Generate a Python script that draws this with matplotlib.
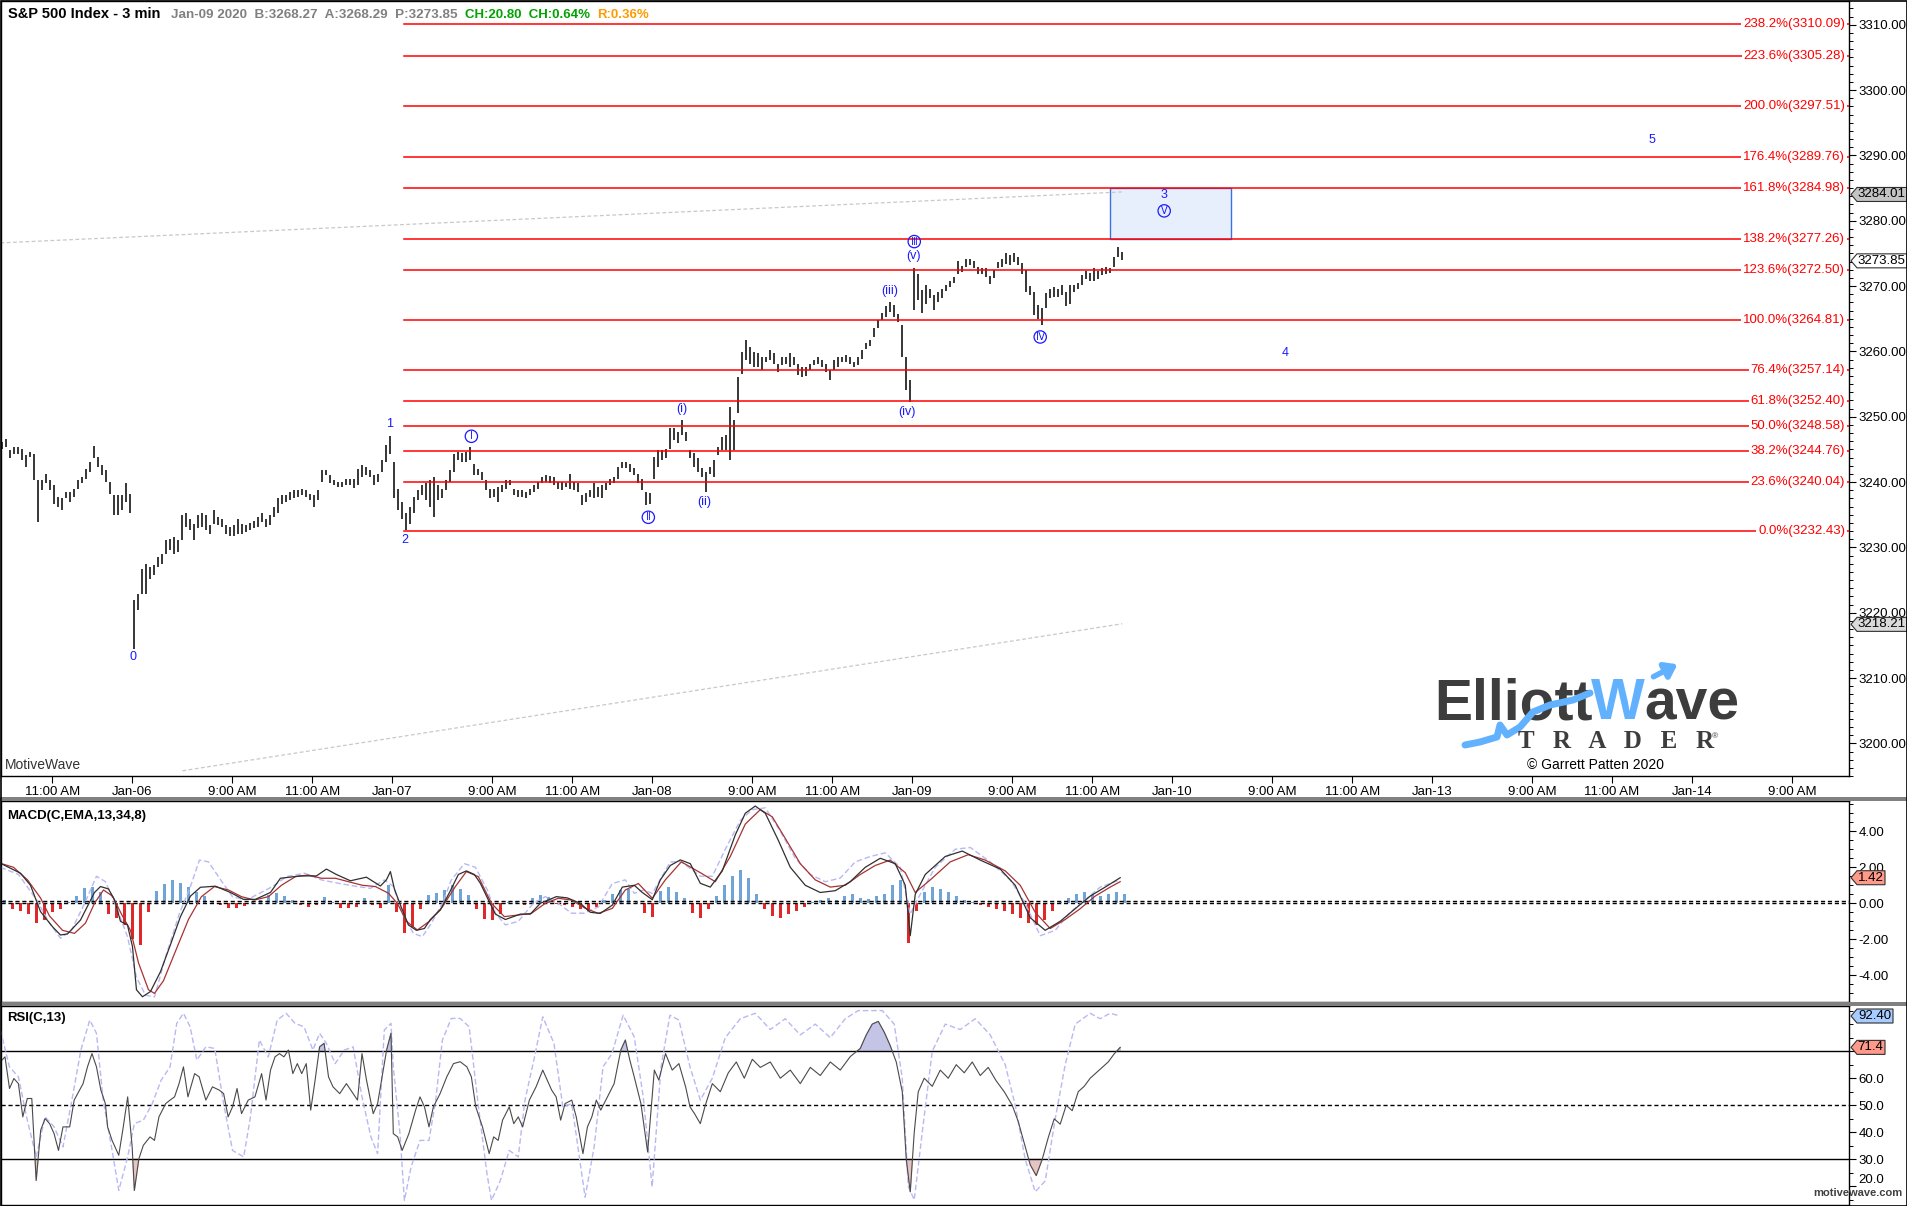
import numpy as np
import matplotlib
matplotlib.use("Agg")
import matplotlib.pyplot as plt
from matplotlib.patches import Rectangle, Polygon
from matplotlib.ticker import MultipleLocator, FormatStrFormatter, FixedLocator, FuncFormatter

plt.rcParams['font.family'] = ['Liberation Sans', 'DejaVu Sans']

W, H = 1908, 1206

# time axis unit: 1.5 trading minutes (one 3-min bar = 2 units), one session = 260 units
day_open = [132, 392, 652, 912, 1172, 1432, 1692]
day_name = ['Jan-06', 'Jan-07', 'Jan-08', 'Jan-09', 'Jan-10', 'Jan-13', 'Jan-14']

# price bars (high / low), 6-minute slots
fri_hi = [3246.1, 3246.6, 3244.9, 3245.4, 3245.4, 3245.1, 3244.1, 3244.6, 3244.3, 3240.3, 3240.3,
          3241.3, 3240.3, 3239.5, 3237.7, 3237.5, 3238.5, 3238.5, 3239.0, 3240.3, 3240.8, 3242.0,
          3243.1, 3245.5, 3243.8, 3242.6, 3241.8, 3240.0, 3238.0, 3238.0, 3238.0, 3239.8, 3238.2]
fri_lo = [3245.1, 3245.4, 3243.6, 3244.3, 3244.3, 3243.3, 3242.3, 3243.8, 3240.3, 3233.9, 3238.7,
          3239.8, 3238.7, 3236.7, 3236.2, 3235.7, 3237.5, 3236.9, 3237.7, 3239.0, 3239.8, 3240.5,
          3241.5, 3243.6, 3242.3, 3241.0, 3240.0, 3238.2, 3234.9, 3234.9, 3235.7, 3236.9, 3235.2]
d06_hi = [3221.9, 3222.9, 3226.7, 3227.5, 3227.0, 3227.3, 3228.5, 3229.0, 3231.1, 3231.3, 3231.6,
          3231.1, 3234.9, 3235.2, 3234.4, 3233.6, 3234.9, 3235.2, 3234.9, 3233.4, 3235.7, 3234.7,
          3234.4, 3233.4, 3233.1, 3233.4, 3234.4, 3233.6, 3233.4, 3233.7, 3234.1, 3234.7, 3235.2,
          3234.4, 3234.9, 3236.2, 3237.5, 3238.0, 3238.0, 3238.5, 3238.7, 3238.7, 3239.0, 3238.7,
          3238.2, 3238.0, 3238.7, 3241.8, 3241.9, 3241.0, 3240.3, 3240.0, 3240.0, 3240.4, 3240.5,
          3240.5, 3242.0, 3242.6, 3242.3, 3241.8, 3241.0, 3241.3, 3243.3, 3245.6, 3247.1]
d06_lo = [3214.5, 3220.4, 3222.9, 3222.9, 3225.2, 3225.7, 3227.0, 3227.5, 3229.0, 3229.6, 3229.0,
          3229.3, 3231.1, 3233.1, 3232.6, 3231.1, 3232.9, 3233.1, 3232.6, 3232.1, 3233.6, 3233.4,
          3233.1, 3232.1, 3231.8, 3231.8, 3232.1, 3232.1, 3232.4, 3232.7, 3232.9, 3233.1, 3233.9,
          3233.1, 3233.4, 3234.7, 3235.2, 3236.7, 3236.9, 3237.2, 3237.5, 3237.7, 3238.0, 3237.7,
          3237.2, 3236.2, 3237.2, 3240.0, 3241.0, 3239.8, 3239.5, 3239.2, 3239.3, 3239.5, 3239.6,
          3239.1, 3239.5, 3240.8, 3241.0, 3240.8, 3239.5, 3240.0, 3241.5, 3243.1, 3244.3]
d07_hi = [3243.1, 3239.0, 3236.9, 3235.2, 3236.2, 3237.7, 3238.7, 3239.5, 3239.8, 3240.3, 3240.8,
          3239.5, 3239.0, 3240.3, 3241.8, 3244.3, 3244.6, 3244.4, 3244.6, 3245.3, 3242.8, 3242.0,
          3241.5, 3240.3, 3239.0, 3239.0, 3239.2, 3239.5, 3240.3, 3240.3, 3239.0, 3238.7, 3238.7,
          3238.5, 3239.0, 3239.5, 3240.0, 3240.8, 3241.0, 3240.9, 3240.7, 3240.0, 3240.0, 3239.8,
          3241.3, 3240.0, 3239.8, 3238.0, 3238.3, 3238.8, 3239.8, 3239.3, 3239.5, 3239.8, 3240.5,
          3240.8, 3242.3, 3243.1, 3243.1, 3242.8, 3242.1, 3241.3, 3240.5, 3238.5, 3238.3]
d07_lo = [3237.5, 3235.7, 3234.4, 3232.6, 3233.6, 3235.2, 3237.2, 3238.0, 3237.2, 3236.2, 3234.7,
          3237.2, 3237.5, 3238.7, 3240.0, 3241.5, 3243.3, 3243.1, 3243.1, 3243.3, 3241.0, 3241.0,
          3240.3, 3238.7, 3237.5, 3237.7, 3236.9, 3238.5, 3239.0, 3239.5, 3238.0, 3237.7, 3237.7,
          3237.5, 3238.0, 3238.5, 3239.0, 3239.8, 3240.0, 3239.9, 3239.6, 3239.0, 3238.8, 3239.3,
          3239.0, 3238.8, 3238.5, 3236.5, 3237.0, 3237.7, 3237.5, 3237.7, 3237.5, 3238.8, 3239.5,
          3239.8, 3240.5, 3242.1, 3242.1, 3241.6, 3241.1, 3239.8, 3238.8, 3236.5, 3236.7]
d08_hi = [3243.9, 3244.9, 3244.9, 3245.1, 3248.2, 3248.2, 3247.7, 3249.5, 3247.7, 3244.9, 3244.4,
          3243.6, 3242.1, 3241.6, 3242.3, 3243.4, 3245.4, 3246.9, 3247.2, 3251.5, 3249.5, 3256.1,
          3259.9, 3261.7, 3260.7, 3259.9, 3259.7, 3259.2, 3259.2, 3260.2, 3259.7, 3258.1, 3259.2,
          3259.2, 3259.7, 3259.2, 3258.1, 3257.6, 3257.6, 3258.1, 3258.7, 3259.2, 3258.7, 3258.1,
          3257.1, 3258.7, 3259.2, 3259.2, 3259.5, 3259.2, 3258.4, 3259.2, 3260.2, 3261.2, 3261.7,
          3263.5, 3264.8, 3265.9, 3266.9, 3267.6, 3267.1, 3265.7, 3264.0, 3259.2, 3255.6]
d08_lo = [3240.5, 3242.3, 3243.4, 3243.6, 3245.1, 3246.4, 3245.9, 3247.2, 3246.2, 3243.6, 3242.3,
          3241.6, 3240.8, 3238.5, 3241.3, 3240.8, 3244.1, 3244.9, 3244.9, 3243.4, 3244.9, 3250.5,
          3256.6, 3258.7, 3258.1, 3257.6, 3257.6, 3257.1, 3258.4, 3258.7, 3258.1, 3256.9, 3257.9,
          3258.1, 3257.6, 3257.9, 3256.4, 3256.1, 3256.2, 3257.1, 3257.9, 3258.0, 3257.6, 3256.9,
          3255.6, 3257.1, 3257.6, 3258.4, 3258.4, 3258.1, 3257.6, 3257.9, 3258.9, 3260.4, 3260.8,
          3262.2, 3263.5, 3264.8, 3265.3, 3266.0, 3265.3, 3264.5, 3259.2, 3254.1, 3252.3]
d09_hi = [3272.7, 3271.9, 3269.4, 3270.1, 3269.6, 3268.6, 3269.1, 3269.5, 3270.1, 3270.8, 3271.4,
          3273.9, 3273.0, 3274.2, 3274.2, 3273.8, 3272.9, 3272.8, 3272.7, 3271.5, 3272.5, 3273.7,
          3274.2, 3275.0, 3274.7, 3275.0, 3274.5, 3273.5, 3272.4, 3270.0, 3269.1, 3267.1, 3266.7,
          3268.9, 3269.5, 3269.9, 3269.5, 3270.1, 3269.1, 3270.1, 3270.1, 3270.4, 3271.7, 3272.3,
          3272.0, 3272.7, 3272.3, 3272.7, 3272.9, 3272.8, 3274.4, 3275.9, 3275.2]
d09_lo = [3266.3, 3267.8, 3265.8, 3267.3, 3268.1, 3266.3, 3267.6, 3268.1, 3269.3, 3269.9, 3270.4,
          3271.9, 3272.2, 3272.9, 3273.2, 3272.7, 3271.9, 3271.8, 3271.4, 3270.3, 3271.3, 3272.7,
          3272.9, 3273.3, 3273.2, 3273.7, 3273.2, 3271.9, 3269.1, 3268.6, 3265.5, 3265.0, 3264.0,
          3266.6, 3268.1, 3268.3, 3268.3, 3268.6, 3266.9, 3267.3, 3269.1, 3269.6, 3270.1, 3271.0,
          3270.8, 3270.8, 3271.1, 3271.7, 3271.9, 3272.0, 3272.9, 3274.4, 3274.0]

fib_pct = [0.0, 23.6, 38.2, 50.0, 61.8, 76.4, 100.0, 123.6, 138.2, 161.8, 176.4, 200.0, 223.6, 238.2]
fib_val = [3232.43, 3240.04, 3244.76, 3248.58, 3252.40, 3257.14, 3264.81, 3272.50, 3277.26,
           3284.98, 3289.76, 3297.51, 3305.28, 3310.09]
fib_start = 404

target_t = [1110, 1231]
target_p = [3277.26, 3284.98]

upper_t = [0, 1122]
upper_p = [3276.6, 3284.4]
lower_t = [182, 1122]
lower_p = [3195.8, 3218.3]

wave_plain = [('0', 133, 3213.2), ('1', 389, 3248.9), ('2', 404, 3231.1), ('(i)', 681, 3251.1),
              ('(ii)', 704, 3237.0), ('(iii)', 889, 3269.3), ('(iv)', 907, 3250.7),
              ('(v)', 913, 3274.6), ('3', 1164, 3283.9), ('4', 1285, 3259.7), ('5', 1652, 3292.3)]
wave_circ = [('\u2160', 471, 3247.0), ('\u2161', 648, 3234.6), ('\u2162', 914, 3276.8),
             ('\u2163', 1040, 3262.2), ('\u2164', 1164, 3281.5)]

# MACD(13,34,8)
macd_t = [0, 20, 30, 40, 52, 60, 67, 80, 94, 100, 108, 114, 120, 127, 132, 136, 142, 150, 160, 170,
          180, 190, 200, 215, 230, 243, 255, 270, 280, 300, 316, 326, 336, 350, 366, 380, 386, 390,
          394, 400, 408, 416, 424, 430, 440, 450, 458, 466, 474, 480, 487, 495, 505, 520, 530, 540,
          556, 567, 580, 590, 600, 612, 622, 634, 642, 652, 660, 670, 680, 690, 700, 710, 722, 735,
          745, 755, 765, 778, 790, 805, 820, 835, 850, 865, 880, 895, 905, 910, 915, 925, 945, 962,
          980, 1000, 1015, 1030, 1045, 1060, 1075, 1090, 1105, 1120]
macd_v = [2.22, 1.67, 1.0, -0.46, -1.3, -1.76, -1.7, -0.93, 0.6, 0.93, 0.8, 0.2, -1.0, -1.2, -2.4,
          -4.8, -5.19, -4.9, -3.8, -2.3, -0.74, 0.4, 0.89, 0.95, 0.6, 0.22, 0.22, 0.6, 1.39, 1.52,
          1.52, 1.9, 1.6, 1.25, 1.45, 0.96, 1.3, 1.76, 0.8, -0.09, -1.2, -1.5, -1.4, -0.9, -0.37,
          0.7, 1.6, 1.8, 1.6, 1.11, 0.3, -0.6, -0.9, -0.6, -0.6, 0.0, 0.37, 0.3, 0.0, -0.5, -0.56,
          -0.1, 0.9, 1.0, 0.6, 0.2, 1.3, 2.1, 2.41, 2.2, 1.11, 0.9, 1.8, 3.8, 5.0, 5.4, 5.0, 3.5,
          2.0, 1.0, 0.6, 0.7, 1.2, 2.0, 2.5, 2.2, 1.0, -1.8, 0.5, 1.6, 2.6, 2.9, 2.4, 1.9, 1.0, -0.8,
          -1.5, -1.0, -0.3, 0.4, 0.9, 1.42]
sig_t = [0, 13, 27, 40, 49, 62, 74, 85, 94, 103, 112, 121, 130, 138, 148, 154, 163, 174, 188, 201,
         214, 228, 241, 254, 268, 281, 295, 308, 321, 335, 348, 362, 375, 388, 397, 406, 417, 429,
         442, 455, 466, 478, 491, 504, 518, 531, 545, 558, 571, 585, 598, 612, 625, 638, 652, 665,
         681, 700, 715, 730, 745, 760, 772, 785, 800, 815, 830, 845, 860, 875, 890, 905, 915, 930,
         950, 968, 985, 1005, 1020, 1035, 1050, 1065, 1080, 1095, 1110, 1120]
sig_v = [2.22, 2.0, 1.3, 0.3, -0.7, -1.5, -1.67, -1.1, 0.0, 0.74, 0.4, -0.6, -1.5, -3.3, -4.8, -5.0,
         -4.3, -2.8, -0.9, 0.37, 0.93, 0.74, 0.37, 0.18, 0.37, 1.0, 1.48, 1.57, 1.39, 1.39, 1.2, 1.0,
         0.93, 0.56, 0.0, -1.0, -1.48, -1.0, -0.2, 0.93, 1.76, 1.48, 0.0, -0.74, -0.65, -0.56, 0.0,
         0.28, 0.18, -0.28, -0.56, -0.28, 0.74, 1.1, 0.28, 1.3, 2.3, 1.7, 1.2, 2.6, 4.4, 5.2, 4.8,
         3.6, 2.2, 1.3, 0.9, 1.0, 1.6, 2.1, 2.4, 1.7, 0.6, 1.3, 2.3, 2.7, 2.4, 1.8, 1.0, -0.5, -1.4,
         -0.9, -0.3, 0.4, 0.9, 1.2]
mdash_t = [0, 18, 36, 49, 60, 71, 85, 96, 105, 116, 127, 136, 145, 154, 165, 179, 190, 199, 208,
           219, 232, 246, 259, 272, 286, 304, 321, 339, 357, 370, 384, 393, 402, 413, 422, 431, 442,
           451, 464, 475, 487, 495, 505, 518, 533, 545, 558, 571, 584, 598, 612, 625, 634, 643, 652,
           670, 681, 692, 700, 712, 725, 740, 752, 765, 780, 795, 810, 825, 840, 855, 870, 885, 900,
           910, 920, 935, 955, 970, 990, 1010, 1025, 1040, 1055, 1070, 1085, 1100, 1120]
mdash_v = [2.0, 1.6, 0.2, -1.1, -1.94, -1.5, 0.1, 1.5, 1.2, -0.2, -1.85, -4.1, -5.1, -5.2, -3.0,
           -0.56, 0.93, 2.4, 2.3, 1.4, 0.37, 0.18, 0.55, 0.93, 1.48, 1.67, 1.3, 1.1, 0.93, 0.83, 1.3,
           0.93, -0.55, -1.67, -1.85, -1.1, 0.0, 1.3, 2.2, 2.0, 0.74, -0.55, -1.2, -1.0, 0.0, 0.37,
           0.0, -0.55, -0.55, -0.2, 1.1, 1.3, 0.55, 0.74, 0.55, 2.3, 2.3, 1.85, 1.5, 1.5, 3.0, 4.6,
           5.2, 5.3, 4.0, 2.5, 1.6, 1.2, 1.4, 2.3, 2.6, 2.8, 2.0, -0.6, 0.5, 2.0, 3.0, 3.1, 2.3, 1.3,
           0.0, -1.8, -1.5, -0.5, 0.2, 0.9, 1.3]
# histogram, 12-minute slots
hist_v = [0.18, -0.3, -0.4, -0.6, -1.1, -0.9, -0.5, -0.3, 0.1, 0.4, 0.85, 0.93, 0.6, -0.6, -0.8,
          -1.2, -2.0, -2.3, -0.5, 0.7, 1.05, 1.3, 1.1, 0.9, 0.65, 0.4, 0.15, -0.1, -0.28, -0.25,
          -0.15, 0.05, 0.2, 0.46, 0.55, 0.4, 0.2, -0.1, -0.2, -0.1, 0.37, 0.1, -0.28, -0.28, -0.2,
          0.28, -0.1, -0.28, 1.0, -0.5, -1.67, -1.3, -0.3, 0.46, 0.55, 0.74, 1.0, 0.8, 0.45, -0.3,
          -0.85, -0.9, -0.6, 0.1, 0.15, -0.1, 0.3, 0.46, 0.37, -0.05, -0.1, -0.19, -0.3, -0.46, -0.2,
          0.2, 0.5, 0.75, 0.8, 0.1, -0.56, -0.74, 0.7, 0.93, 0.6, 0.3, -0.56, -0.83, -0.3, 0.4, 1.0,
          1.5, 1.85, 1.4, 0.5, -0.3, -0.7, -0.8, -0.6, -0.4, -0.2, 0.1, 0.2, 0.3, 0.2, 0.4, 0.5, 0.3,
          0.25, 0.4, 0.5, 1.0, 1.3, -2.2, -0.4, 0.6, 0.9, 0.8, 0.6, 0.4, 0.2, 0.1, -0.1, -0.2, -0.3,
          -0.4, -0.6, -0.8, -1.1, -1.2, -0.9, -0.4, 0.1, 0.3, 0.5, 0.6, 0.5, 0.4, 0.5, 0.6, 0.5]

# RSI(13)
rsi_t = [0, 4.5, 9, 13.4, 17.9, 22.3, 26.8, 31.3, 35.7, 40.2, 44.6, 49.1, 53.6, 58, 62.5, 69.2,
         73.7, 78.1, 82.6, 87, 91.5, 96, 100.4, 104.9, 107.1, 111.6, 118.3, 122.8, 127.2, 131.7,
         133.9, 138.4, 142.9, 149.6, 154, 158.5, 165.2, 169.6, 174.1, 178.6, 183, 187.5, 194.2,
         198.7, 205.4, 212, 218.8, 223.2, 227.7, 232.1, 236.6, 241.1, 247.8, 254.5, 261.2, 265.6,
         270.1, 274.6, 279, 283.5, 288, 292.4, 296.9, 301.3, 305.8, 310.3, 314.7, 319.2, 323.7,
         328.1, 332.6, 339.3, 346, 352.7, 357.1, 361.6, 366.1, 372.8, 377.2, 381.7, 386.2, 390.6,
         392.9, 397.3, 401.8, 408.5, 415.2, 419.6, 424.1, 428.6, 433, 439.7, 446.4, 453.1, 459.8,
         466.5, 471, 475.4, 482.1, 488.8, 493.3, 497.8, 502.2, 508.9, 513.4, 517.9, 522.3, 529,
         535.7, 542.4, 546.9, 551.3, 555.8, 560.3, 564.7, 571.4, 575.9, 582.6, 587.1, 591.5, 596,
         600.4, 607.1, 613.8, 620.5, 625, 629.5, 633.9, 640.6, 647.3, 654, 658.5, 665.2, 671.9,
         678.6, 685.3, 689.7, 694.2, 700, 705, 712, 720, 728, 736, 744, 752, 760, 770, 780, 790, 800,
         810, 820, 830, 840, 850, 860, 866, 872, 878, 884, 890, 896, 902, 906, 910, 914, 918, 924,
         932, 940, 948, 956, 964, 972, 980, 988, 996, 1004, 1012, 1018, 1024, 1030, 1036, 1042, 1048,
         1054, 1060, 1066, 1072, 1078, 1084, 1090, 1096, 1102, 1108, 1114, 1120]
rsi_v = [66.1, 67.9, 56.2, 59.9, 58.0, 45.7, 52.5, 52.5, 22.2, 40.8, 45.1, 43.2, 39.5, 33.3, 42, 42,
         51.9, 54.9, 58, 64.2, 69.1, 64.2, 55.6, 50.6, 42, 37, 31.5, 42, 53.1, 34.6, 18.5, 30.2, 35.2,
         38.3, 37, 45.7, 50.6, 51.9, 53.1, 58, 64.2, 53.1, 61.7, 60.5, 51.9, 56.8, 55.6, 54.3, 45.7,
         49.4, 56.2, 46.9, 51.9, 53.1, 61.7, 51.9, 63, 67.9, 69.1, 67.9, 70.4, 61.7, 65.4, 61.7, 65.4,
         48.2, 59.3, 71.6, 72.9, 60.5, 56.8, 54.3, 58, 54.3, 51.9, 69.1, 59.3, 46.9, 50.6, 60.5, 70.4,
         76.6, 39.5, 38.3, 33.3, 39.5, 48.2, 53.1, 49.4, 42, 49.4, 54.3, 60.5, 65.4, 66.1, 64.2, 60.5,
         49.4, 42, 32.1, 38.3, 37, 44.5, 49.4, 43.2, 45.7, 42, 51.9, 56.8, 63, 59.3, 55.6, 53.1, 44.5,
         50.6, 51.9, 45.7, 32.1, 42, 45.7, 51.9, 48.2, 53.1, 58, 70.4, 74.1, 66.7, 60.5, 50.6, 32.7,
         63, 59.3, 69.1, 63, 65.4, 56.8, 49.4, 46.9, 43.2, 50, 58, 55, 62, 66, 60, 67, 64, 66, 60, 63,
         58, 64, 61, 66, 63, 68, 71, 76, 80, 81, 77, 72, 66, 55, 30, 18, 40, 55, 60, 57, 63, 60, 65,
         62, 66, 61, 64, 59, 55, 50, 44, 36, 28, 24, 30, 38, 45, 43, 50, 48, 55, 57, 60, 62, 64, 66,
         69, 71.4]
rsid_t = [0, 8.9, 17.9, 26.8, 35.7, 44.6, 53.6, 62.5, 71.4, 80.4, 89.3, 96, 102.7, 111.6, 118.3,
          127.2, 133.9, 142.9, 151.8, 160.7, 169.6, 176.3, 183, 189.7, 196.4, 205.4, 214.3, 223.2,
          232.1, 243.3, 250, 258.9, 267.9, 276.8, 285.7, 294.6, 303.6, 312.5, 319.2, 325.9, 334.8,
          343.8, 352.7, 361.6, 370.5, 377.2, 383.9, 390.6, 392.9, 399.6, 404, 410.7, 419.6, 428.6,
          435.3, 442, 450.9, 459.8, 468.8, 477.7, 486.6, 491.1, 500, 508.9, 517.9, 524.6, 533.5,
          542.4, 553.6, 562.5, 571.4, 580.4, 584.8, 593.8, 602.7, 611.6, 622.8, 633.9, 642.9, 651.8,
          660.7, 669.6, 678.6, 689.7, 700, 712, 725, 740, 755, 770, 785, 800, 815, 830, 845, 858,
          870, 882, 894, 902, 908, 914, 922, 932, 945, 960, 975, 990, 1005, 1015, 1025, 1035, 1045,
          1055, 1065, 1075, 1090, 1100, 1110, 1120]
rsid_v = [77.8, 64.2, 60.5, 44.5, 30.9, 45.7, 42, 34.6, 51.9, 70.4, 81.5, 76.6, 51.9, 33.3, 18.5,
          30.9, 43.2, 44.5, 50.6, 59.3, 64.2, 80.3, 84, 79, 66.7, 71.6, 71, 50.6, 33.3, 30.9, 45.7,
          74.1, 67.9, 81.5, 84, 80.3, 79, 70.4, 76.6, 72.9, 65.4, 70.4, 71.6, 53.1, 38.3, 32.1, 77.8,
          80.3, 64.2, 39.5, 14.8, 27.2, 37, 37, 51.9, 74.1, 82.1, 82.1, 79, 50.6, 24.7, 14.8, 22.2,
          33.3, 30.9, 51.9, 66.7, 82.7, 72.9, 49.4, 50.6, 27.2, 16, 34.6, 64.2, 69.1, 83.3, 75.3,
          53.1, 19.8, 64.2, 83.3, 81.5, 64.2, 51.9, 60, 75, 82, 84, 78, 82, 76, 80, 75, 82, 85, 85,
          85, 80, 60, 20, 15, 40, 70, 80, 78, 82, 76, 65, 50, 30, 18, 22, 45, 65, 80, 84, 82, 84, 83]

# ---------------------------------------------------------------- figure
fig = plt.figure(figsize=(W / 100, H / 100), dpi=100)
ax = fig.add_axes([0.5 / W, (H - 776) / H, 1848.5 / W, 775.5 / H])
axm = fig.add_axes([0.5 / W, (H - 1002) / H, 1848.5 / W, 201 / H])
axr = fig.add_axes([0.5 / W, (H - 1204.5) / H, 1848.5 / W, 198.5 / H])

for a in (ax, axm, axr):
    a.set_xlim(0, 1849)
    a.yaxis.tick_right()
    a.tick_params(axis='y', which='major', direction='out', length=5, width=0.8, pad=2,
                  labelsize=9.5, colors='black')
    a.tick_params(axis='y', which='minor', direction='out', length=3, width=0.7)
    for s in a.spines.values():
        s.set_linewidth(1.0)

# main price panel
ax.set_ylim(3195.0, 3313.7)
ax.yaxis.set_major_locator(MultipleLocator(10))
ax.yaxis.set_minor_locator(MultipleLocator(1.25))
ax.yaxis.set_major_formatter(FormatStrFormatter('%.2f'))

hi = np.array(fri_hi + d06_hi + d07_hi + d08_hi + d09_hi)
lo = np.array(fri_lo + d06_lo + d07_lo + d08_lo + d09_lo)
bar_t = np.arange(len(hi)) * 4 + 2
ax.vlines(bar_t, lo, hi, color='black', lw=1.1, zorder=2)

for pct, val in zip(fib_pct, fib_val):
    ax.plot([fib_start, 1849], [val, val], color='#ff0000', lw=1.1, zorder=3)
    ax.text(1845, val, '%.1f%%(%.2f)' % (pct, val), color='#ff0000', fontsize=9.5,
            ha='right', va='center', zorder=4,
            bbox=dict(fc='white', ec='none', pad=1.2))

ax.add_patch(Rectangle((target_t[0], target_p[0]), target_t[1] - target_t[0],
                       target_p[1] - target_p[0], fc='#e8effc', ec='#3a72e6', lw=1.0, zorder=1))

ax.plot(upper_t, upper_p, color='#c8c8c8', lw=0.9, ls=(0, (3, 2)), zorder=1)
ax.plot(lower_t, lower_p, color='#c8c8c8', lw=0.9, ls=(0, (3, 2)), zorder=1)

wave_col = '#1a1aff'
for txt, t, p in wave_plain:
    ax.text(t, p, txt, color=wave_col, fontsize=9, ha='center', va='center', zorder=5)
for txt, t, p in wave_circ:
    ax.text(t, p, txt, color=wave_col, fontsize=7, ha='center', va='center', zorder=5,
            family=['DejaVu Sans'],
            bbox=dict(boxstyle='circle,pad=0.12', fc='none', ec=wave_col, lw=0.9))

ticks, labels = [], []
ticks.append(day_open[0] - 80)
labels.append('11:00 AM')
for d, name in zip(day_open, day_name):
    ticks += [d, d + 100, d + 180]
    labels += [name, '9:00 AM', '11:00 AM']
keep = [i for i, t in enumerate(ticks) if t < 1849]
ax.set_xticks([ticks[i] for i in keep])
ax.set_xticklabels([labels[i] for i in keep])
ax.tick_params(axis='x', direction='out', length=5, width=0.8, pad=2, labelsize=9.5)

# MACD panel
axm.set_ylim(-5.48, 5.68)
axm.yaxis.set_major_locator(FixedLocator([-4, -2, 0, 2, 4]))
axm.yaxis.set_minor_locator(MultipleLocator(0.5))
axm.yaxis.set_major_formatter(FormatStrFormatter('%.2f'))
axm.set_xticks([])
hist_t = np.arange(len(hist_v)) * 8 + 4
hist_c = ['#6ea4d8' if v >= 0 else '#e02828' for v in hist_v]
axm.bar(hist_t, hist_v, width=3.2, color=hist_c, zorder=2)
axm.axhline(0.0, color='black', lw=1.0, ls=(0, (3, 2)), zorder=3)
axm.axhline(0.13, color='black', lw=1.0, ls=(0, (3, 2)), zorder=3)
axm.plot(mdash_t, mdash_v, color='#b8b8f4', lw=1.0, ls=(0, (4, 2)), zorder=3)
axm.plot(sig_t, sig_v, color='#a83232', lw=0.9, zorder=4)
axm.plot(macd_t, macd_v, color='#303030', lw=0.9, zorder=5)
axm.text(7, 5.2, 'MACD(C,EMA,13,34,8)', fontsize=9.5, weight='bold', va='top', ha='left')

# RSI panel (the 70 label is covered by the last-value flag, so it is left blank)
axr.set_ylim(13.3, 86.7)
axr.yaxis.set_major_locator(FixedLocator([20, 30, 40, 50, 60, 70]))
axr.yaxis.set_minor_locator(MultipleLocator(5))
axr.yaxis.set_major_formatter(FuncFormatter(lambda v, pos: '' if v >= 70 else '%.1f' % v))
axr.set_xticks([])
axr.axhline(70, color='black', lw=1.0, zorder=2)
axr.axhline(30, color='black', lw=1.0, zorder=2)
axr.axhline(50, color='black', lw=1.0, ls=(0, (3, 2)), zorder=2)
rt = np.array(rsi_t)
rv = np.array(rsi_v)
axr.fill_between(rt, rv, 70, where=rv > 70, interpolate=True, color='#c4c4e6', zorder=1)
axr.fill_between(rt, rv, 30, where=rv < 30, interpolate=True, color='#e6c4c4', zorder=1)
axr.plot(rsid_t, rsid_v, color='#b8b8f4', lw=1.0, ls=(0, (4, 2)), zorder=3)
axr.plot(rsi_t, rsi_v, color='#4a4a4a', lw=0.8, zorder=4)
axr.text(7, 84.5, 'RSI(C,13)', fontsize=9.5, weight='bold', va='top', ha='left')
# lowest RSI label sits above its tick so it clears the footer text
fig.canvas.draw()
axr.get_yticklabels()[0].set_va('bottom')


def flag(a, y, text, fc, width):
    bb = a.get_position()
    dx = 1.0 / (bb.width * W)
    y0, y1 = a.get_ylim()
    dy = (y1 - y0) / (bb.height * H)
    x0 = 1.0 + 2 * dx
    hw = 7 * dy
    verts = [(x0, y), (x0 + 6 * dx, y + hw), (x0 + width * dx, y + hw),
             (x0 + width * dx, y - hw), (x0 + 6 * dx, y - hw)]
    tr = a.get_yaxis_transform()
    a.add_patch(Polygon(verts, closed=True, transform=tr, fc=fc, ec='#303030', lw=0.8,
                        clip_on=False, zorder=6))
    a.text(x0 + (width + 5) / 2 * dx, y, text, transform=tr, ha='center', va='center',
           fontsize=9.5, clip_on=False, zorder=7)


flag(ax, 3284.01, '3284.01', '#c4c4c4', 56)
flag(ax, 3273.85, '3273.85', 'white', 56)
flag(ax, 3218.21, '3218.21', '#dadada', 56)
flag(axm, macd_v[-1], '%.2f' % macd_v[-1], '#ff9a8a', 34)
flag(axr, rsid_v[-1], '92.40', '#a8ccff', 42)
flag(axr, rsi_v[-1], '%.1f' % rsi_v[-1], '#ff9a8a', 34)

# overlay in pixel coordinates: header, separators, logo, border
deco = fig.add_axes([0, 0, 1, 1], facecolor='none')
deco.set_xlim(0, W)
deco.set_ylim(H, 0)
deco.axis('off')

deco.add_patch(Rectangle((0, 797), W, 4, fc='#808080', ec='none'))
deco.add_patch(Rectangle((0, 1002), W, 4, fc='#808080', ec='none'))
deco.add_patch(Rectangle((0.5, 0.5), W - 1, H - 1, fill=False, ec='black', lw=1.2))

t0 = deco.text(8, 21, 'S&P 500 Index - 3 min', fontsize=10.5, weight='bold', va='bottom')
t1 = deco.annotate('Jan-09 2020  B:3268.27  A:3268.29  P:3273.85', xy=(1, 0), xycoords=t0,
                   xytext=(8, 0), textcoords='offset points', va='bottom', fontsize=9.7,
                   weight='bold', color='#808080')
t2 = deco.annotate('CH:20.80  CH:0.64%', xy=(1, 0), xycoords=t1, xytext=(5, 0),
                   textcoords='offset points', va='bottom', fontsize=9.5, weight='bold',
                   color='#00a400')
deco.annotate('R:0.36%', xy=(1, 0), xycoords=t2, xytext=(5, 0), textcoords='offset points',
              va='bottom', fontsize=9.5, weight='bold', color='#ff9a00')

deco.text(5, 765, 'MotiveWave', fontsize=10, color='#333333', va='center')
deco.text(1903, 1193, 'motivewave.com', fontsize=8, weight='bold', color='#404040',
          ha='right', va='center')

# Elliott Wave Trader watermark
logo_dark = '#3d3d3d'
logo_blue = '#62b1ff'
e1 = deco.text(1434, 719, 'Elliott', fontsize=41, weight='bold', color=logo_dark, va='baseline')
e2 = deco.annotate('W', xy=(1, 0), xycoords=e1, xytext=(-1, 0), textcoords='offset points',
                   va='bottom', fontsize=41, weight='bold', color=logo_blue)
deco.annotate('ave', xy=(1, 0), xycoords=e2, xytext=(0, 0), textcoords='offset points',
              va='bottom', fontsize=41, weight='bold', color=logo_dark)
swoosh_x = [1465, 1480, 1497, 1500, 1507, 1520, 1533, 1550, 1573, 1590]
swoosh_y = [745, 742, 737, 725, 735, 727, 712, 705, 700, 693]
deco.plot(swoosh_x, swoosh_y, color=logo_blue, lw=5, solid_capstyle='round', zorder=3)
deco.annotate('', xy=(1680, 663), xytext=(1651, 678),
              arrowprops=dict(arrowstyle='-|>,head_width=0.5,head_length=0.7',
                              color=logo_blue, lw=4))
deco.text(1616, 748, 'T   R   A   D   E   R', fontsize=18, weight='bold', color=logo_dark,
          family=['Liberation Serif', 'DejaVu Serif'], ha='center', va='baseline')
deco.text(1715, 737, '\u00ae', fontsize=6, color=logo_dark, ha='center', va='center')
deco.text(1596, 765, '\u00a9 Garrett Patten 2020', fontsize=10, color='black',
          ha='center', va='center')

fig.savefig('out.png', dpi=100)
